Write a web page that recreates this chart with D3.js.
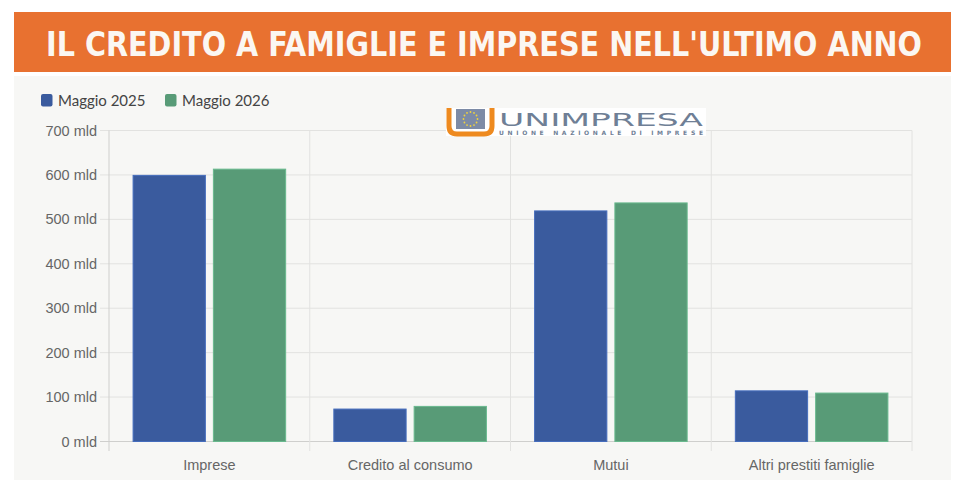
<!DOCTYPE html>
<html>
<head>
<meta charset="utf-8">
<script src="https://cdn.jsdelivr.net/npm/d3@7"></script>
<style>
  html, body { margin: 0; padding: 0; background: #ffffff; }
  svg { display: block; }
</style>
</head>
<body>
<svg id="chart" width="964" height="493"></svg>
<script>
const categories = ["Imprese", "Credito al consumo", "Mutui", "Altri prestiti famiglie"];
const seriesNames = ["Maggio 2025", "Maggio 2026"];
const maggio2025 = [599, 73, 519, 114];
const maggio2026 = [613, 79, 537, 109];
const yTicks = [0, 100, 200, 300, 400, 500, 600, 700];
const titleText = "IL CREDITO A FAMIGLIE E IMPRESE NELL'ULTIMO ANNO";

const colors = { "Maggio 2025": "#3a5b9e", "Maggio 2026": "#589b77" };
const seriesValues = [maggio2025, maggio2026];

const svg = d3.select("#chart");

// banner
svg.append("rect").attr("x", 14).attr("y", 12).attr("width", 937).attr("height", 60).attr("fill", "#e87130");
svg.append("text")
  .attr("x", 46).attr("y", 55.5)
  .attr("textLength", 876).attr("lengthAdjust", "spacingAndGlyphs")
  .attr("font-family", "'DejaVu Sans Condensed', 'Liberation Sans Narrow', sans-serif")
  .attr("font-weight", "bold").attr("font-size", 33)
  .attr("fill", "#fbf7f2")
  .text(titleText);

// panel
svg.append("rect").attr("x", 14).attr("y", 76).attr("width", 937).attr("height", 404).attr("fill", "#f7f7f5");

// legend
const legend = svg.append("g");
const legendX = [41, 165];
seriesNames.forEach((s, i) => {
  legend.append("rect").attr("x", legendX[i]).attr("y", 94).attr("width", 11.5).attr("height", 12.5)
    .attr("rx", 2).attr("fill", colors[s]);
  legend.append("text").attr("x", legendX[i] + 17).attr("y", 106)
    .attr("font-family", "Lato, sans-serif").attr("font-size", 15).attr("fill", "#444")
    .text(s);
});

// scales
const x0 = d3.scaleBand().domain(categories).range([109, 912]).padding(0);
const bw = x0.bandwidth();
const x1 = d3.scaleBand().domain(seriesNames).range([0.1 * bw, 0.9 * bw]).paddingInner(0.1).paddingOuter(0.05);
const y = d3.scaleLinear().domain([0, 700]).range([441.5, 130.5]);

// horizontal gridlines
const gridColor = "#e2e2e0";
svg.append("g").selectAll("line").data(yTicks).join("line")
  .attr("x1", 100).attr("x2", 912)
  .attr("y1", d => y(d)).attr("y2", d => y(d))
  .attr("stroke", d => d === 0 ? "#cfcfcd" : gridColor).attr("stroke-width", 1);

// vertical gridlines at category boundaries
const bounds = categories.map(c => x0(c)).concat([x0.range()[1]]);
svg.append("g").selectAll("line").data(bounds).join("line")
  .attr("x1", d => d).attr("x2", d => d)
  .attr("y1", y(700)).attr("y2", 451)
  .attr("stroke", (d, i) => i === 0 ? "#cfcfcd" : gridColor).attr("stroke-width", 1);

// y axis labels
const yAxis = d3.axisLeft(y).tickValues(yTicks).tickSize(0).tickPadding(12).tickFormat(d => d + " mld");
const ga = svg.append("g").attr("transform", "translate(109,0)").call(yAxis);
ga.select(".domain").remove();
ga.selectAll("text").attr("font-family", "'Liberation Sans', Arial, sans-serif").attr("font-size", 14.5).attr("fill", "#666");

// x axis labels
const xAxis = d3.axisBottom(x0).tickSize(0).tickPadding(0);
const gx = svg.append("g").attr("transform", "translate(0,458)").call(xAxis);
gx.select(".domain").remove();
gx.selectAll("text").attr("font-family", "'Liberation Sans', Arial, sans-serif").attr("font-size", 14.5).attr("fill", "#666").attr("dy", "0.8em");

// bars
const groups = svg.append("g").selectAll("g").data(categories).join("g")
  .attr("transform", c => `translate(${x0(c)},0)`);
groups.selectAll("rect").data((c, ci) => seriesNames.map((s, si) => ({ s, v: seriesValues[si][ci] }))).join("rect")
  .attr("x", d => x1(d.s)).attr("width", x1.bandwidth())
  .attr("y", d => y(d.v)).attr("height", d => y(0) - y(d.v))
  .attr("fill", d => colors[d.s])
  .attr("stroke", d => d3.color(colors[d.s]).brighter(0.5)).attr("stroke-width", 1);

// logo
const logo = svg.append("g");
logo.append("rect").attr("x", 446).attr("y", 108).attr("width", 260).attr("height", 28).attr("fill", "#ffffff");
logo.append("path")
  .attr("d", "M449,108 V126 Q449,134 457,134 H484 Q492,134 492,126 V108")
  .attr("fill", "none").attr("stroke", "#ee8a1f").attr("stroke-width", 5);
logo.append("rect").attr("x", 456).attr("y", 109).attr("width", 29).attr("height", 20).attr("fill", "#7d8ba6");
d3.range(12).forEach(i => {
  const a = i / 12 * 2 * Math.PI;
  logo.append("circle").attr("cx", 470.5 + 7 * Math.cos(a)).attr("cy", 119 + 7 * Math.sin(a)).attr("r", 0.9).attr("fill", "#f2d43a");
});
logo.append("text").attr("x", 499).attr("y", 126)
  .attr("textLength", 204).attr("lengthAdjust", "spacingAndGlyphs")
  .attr("font-family", "'DejaVu Sans', sans-serif").attr("font-size", 18.5).attr("fill", "#6f7f96")
  .text("UNIMPRESA");
logo.append("text").attr("x", 499).attr("y", 134.5)
  .attr("textLength", 204).attr("lengthAdjust", "spacing")
  .attr("font-family", "'DejaVu Sans', sans-serif").attr("font-weight", "bold").attr("font-size", 6).attr("fill", "#6f7f96")
  .text("UNIONE NAZIONALE DI IMPRESE");
</script>
</body>
</html>
